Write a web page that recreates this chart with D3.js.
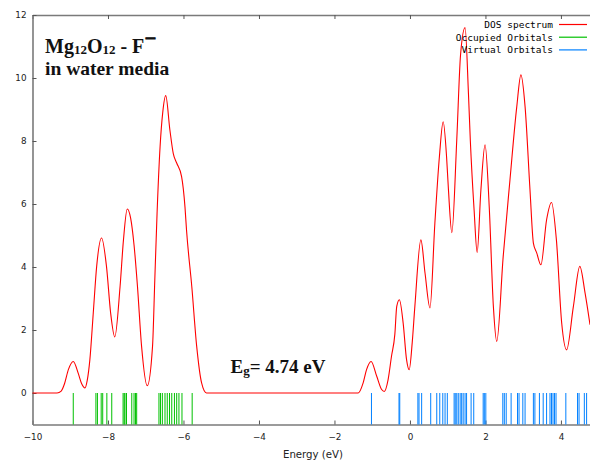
<!DOCTYPE html>
<html>
<head>
<meta charset="utf-8">
<script src="https://cdn.jsdelivr.net/npm/d3@7"></script>
<style>
  body { margin: 0; background: #fff; }
  svg { display: block; }
</style>
</head>
<body>
<script>
//Width and height
var width = 590;
var height = 463;

//DOS spectrum
var energy = [-10, -9.35, -9.24, -9.15, -9.05, -8.92, -8.79, -8.70, -8.61, -8.55, -8.48, -8.39, -8.30, -8.17, -8.04, -7.93, -7.82,
              -7.68, -7.59, -7.49, -7.40, -7.31, -7.22, -7.11, -6.96, -6.82, -6.76, -6.70, -6.62, -6.55, -6.47, -6.36, -6.27,
              -6.18, -6.05, -5.96, -5.92, -5.78, -5.65, -5.52, -5.39,
              -1.37, -1.24, -1.15, -1.03, -0.88, -0.75, -0.68, -0.58, -0.49, -0.40, -0.35, -0.28, -0.18, -0.09, -0.02,
              0.06, 0.13, 0.29, 0.40, 0.53, 0.66, 0.78, 0.88, 0.97, 1.02, 1.11, 1.24, 1.34, 1.46, 1.55, 1.60, 1.70, 1.78,
              1.88, 1.99, 2.10, 2.21, 2.30, 2.47, 2.65, 2.83, 2.94, 3.05, 3.18, 3.27, 3.36, 3.47, 3.62, 3.75, 3.88,
              4.02, 4.15, 4.33, 4.50, 4.64, 4.77];
var dos    = [0, 0, 0.06, 0.3, 0.74, 1.0, 0.63, 0.3, 0.16, 0.4, 1.06, 2.54, 4.02, 4.92, 4.02, 2.54, 1.78,
              3.38, 4.86, 5.84, 5.55, 4.7, 3.4, 1.48, 0.23, 1.48, 3.59, 5.7, 7.82, 8.9, 9.44, 8.35, 7.6,
              7.3, 6.87, 5.9, 5.18, 3.38, 1.48, 0.32, 0,
              0, 0.32, 0.74, 1.0, 0.53, 0.11, 0.05, 0.42, 1.16, 1.87, 2.75, 2.96, 2.22, 1.06, 0.74,
              1.6, 2.75, 4.86, 3.8, 2.70, 5.39, 7.5, 8.61, 7.5, 6.45, 5.09, 8.03, 10.73, 11.6, 9.5, 8.0, 5.8, 4.46,
              6.45, 7.88, 5.92, 2.75, 1.64, 4.33, 6.77, 9.09, 10.1, 9.09, 6.45, 4.76, 4.44, 4.07, 5.50, 6.05, 4.86,
              2.22, 1.37, 2.75, 4.02, 3.17, 2.17];

//orbital energies (eV)
var occupied = [-8.92, -8.32, -8.28, -8.18, -8.14, -8.03, -7.90, -7.60, -7.57, -7.55, -7.51, -7.37, -7.31, -7.27, -7.24,
                -6.65, -6.61, -6.56, -6.49, -6.43, -6.37, -6.31, -6.24, -6.18, -6.12, -6.04, -5.77];
var virtual = [-1.02, -0.29, -0.27, 0.21, 0.24, 0.31, 0.55, 0.71, 0.79, 0.87, 0.93, 0.99,
               1.17, 1.20, 1.24, 1.28, 1.33, 1.37, 1.41, 1.46, 1.50, 1.62, 1.69, 1.94, 1.97, 2.01,
               2.46, 2.50, 2.55, 2.68, 2.85, 2.89, 2.99, 3.05, 3.27, 3.31, 3.43, 3.53, 3.62,
               3.71, 3.75, 3.79, 3.83, 3.87, 4.13, 4.44, 4.48, 4.62, 4.68];

var xTicks = [-10, -8, -6, -4, -2, 0, 2, 4];
var yTicks = [0, 2, 4, 6, 8, 10, 12];
var legendLabels = ["DOS spectrum", "Occupied Orbitals", "Virtual Orbitals"];
var legendColors = ["#ff0000", "#00c000", "#0080ff"];

var x = d3.scaleLinear().domain([-10, 4.77]).range([32.5, 590]);
var y = d3.scaleLinear().domain([-1, 12]).range([424.5, 15]);

function sticks(svg, values, color){
    svg.append("g")
	.selectAll("line")
	.data(values)
	.enter().append("line")
	.attr("x1", function(d){ return x(d); })
	.attr("x2", function(d){ return x(d); })
	.attr("y1", y(0))
	.attr("y2", y(-1))
	.attr("stroke", color)
	.attr("stroke-width", 1);
}

function drawAxes(svg){
    var fmt = function(d){ return d < 0 ? "\u2212" + Math.abs(d) : d; };

    var bottom = svg.append("g")
	.attr("transform", "translate(0," + y(-1) + ")")
	.call(d3.axisBottom(x).tickValues(xTicks).tickFormat(fmt).tickSizeInner(-4).tickSizeOuter(0).tickPadding(9));
    var top = svg.append("g")
	.attr("transform", "translate(0," + y(12) + ")")
	.call(d3.axisTop(x).tickValues(xTicks).tickFormat("").tickSizeInner(-4).tickSizeOuter(0));
    var left = svg.append("g")
	.attr("transform", "translate(" + x(-10) + ",0)")
	.call(d3.axisLeft(y).tickValues(yTicks).tickSizeInner(-4).tickSizeOuter(0).tickPadding(6));

    [bottom, top, left].forEach(function(g){
	g.select(".domain").attr("stroke", "#7a7a7a").attr("stroke-width", 1.6);
	g.selectAll(".tick line").attr("stroke", "#555");
	g.selectAll("text")
	    .attr("font-family", "DejaVu Sans")
	    .attr("font-size", "8.8px")
	    .attr("fill", "#222");
    });

    svg.append("text")
	.attr("x", 313)
	.attr("y", 458)
	.attr("text-anchor", "middle")
	.attr("font-family", "DejaVu Sans")
	.attr("font-size", "10.2px")
	.attr("fill", "#222")
	.text("Energy (eV)");
}

function legend(svg){
    var rows = svg.append("g").selectAll("g")
	.data(legendLabels)
	.enter().append("g")
	.attr("transform", function(d, i){ return "translate(0," + (24.5 + i * 12.7) + ")"; });

    rows.append("text")
	.attr("x", 553)
	.attr("y", 3.5)
	.attr("text-anchor", "end")
	.attr("font-family", "DejaVu Sans Mono")
	.attr("font-size", "9.5px")
	.attr("fill", "#000")
	.text(function(d){ return d; });

    rows.append("line")
	.attr("x1", 559).attr("x2", 587)
	.attr("stroke", function(d, i){ return legendColors[i]; })
	.attr("stroke-width", 1.2);
}

function titles(svg){
    var t1 = svg.append("text")
	.attr("x", 45).attr("y", 52.5)
	.attr("font-family", "Liberation Serif")
	.attr("font-weight", "bold")
	.attr("font-size", "20px")
	.attr("fill", "#111");
    t1.append("tspan").text("Mg");
    t1.append("tspan").attr("font-size", "13px").attr("dy", 1).text("12");
    t1.append("tspan").attr("dy", -1).text("O");
    t1.append("tspan").attr("font-size", "13px").attr("dy", 1).text("12");
    t1.append("tspan").attr("dy", -1).text(" - F");
    // thick raised minus of the anion
    t1.append("tspan").attr("font-size", "20px").attr("dy", -7.5).attr("dx", 0.5)
	.attr("stroke", "#111").attr("stroke-width", 1)
	.text("\u2212");

    svg.append("text")
	.attr("x", 45).attr("y", 75)
	.attr("font-family", "Liberation Serif")
	.attr("font-weight", "bold")
	.attr("font-size", "19.5px")
	.attr("fill", "#111")
	.text("in water media");

    var t2 = svg.append("text")
	.attr("x", 230.5).attr("y", 372.7)
	.attr("font-family", "Liberation Serif")
	.attr("font-weight", "bold")
	.attr("font-size", "19px")
	.attr("fill", "#111");
    t2.append("tspan").text("E");
    t2.append("tspan").attr("font-size", "13px").attr("dy", 2).text("g");
    t2.append("tspan").attr("dy", -2).text("= 4.74 eV");
}

function init(){
    var svg = d3.select("body")
	.append("svg")
	.attr("width", width)
	.attr("height", height);

    drawAxes(svg);

    sticks(svg, occupied, legendColors[1]);
    sticks(svg, virtual, legendColors[2]);

    var line = d3.line()
	.x(function(d){ return x(d[0]); })
	.y(function(d){ return y(d[1]); })
	.curve(d3.curveMonotoneX);

    svg.append("path")
	.datum(d3.zip(energy, dos))
	.attr("fill", "none")
	.attr("stroke", legendColors[0])
	.attr("stroke-width", 1.1)
	.attr("d", line);

    legend(svg);
    titles(svg);

    return svg;
}

//
var svg = init();
</script>
</body>
</html>
